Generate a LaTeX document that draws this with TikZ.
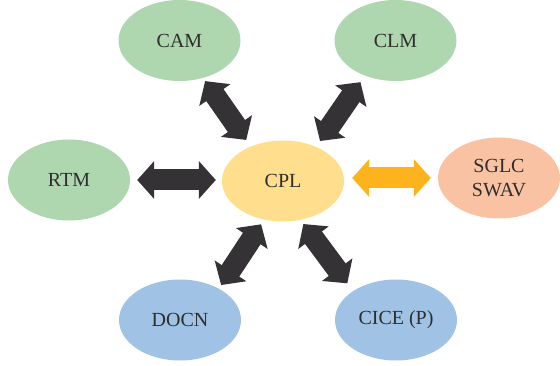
\documentclass[tikz,border=0pt]{standalone}
\usepackage{fontspec}
\setmainfont{Liberation Serif}
\usetikzlibrary{arrows.meta,shapes.geometric}
\definecolor{gfill}{HTML}{AED7B0}
\definecolor{yfill}{HTML}{FFDF8E}
\definecolor{sfill}{HTML}{F9C3A3}
\definecolor{bfill}{HTML}{A0C2E5}
\definecolor{darr}{HTML}{343234}
\definecolor{oarr}{HTML}{FDB31E}
\definecolor{txt}{HTML}{2E2E2E}
\tikzset{
  blob/.style={ellipse, draw=none, inner sep=0pt, minimum width=122pt, minimum height=81pt,
    text=txt, font=\fontsize{20}{24.5}\selectfont, align=center},
  dbl/.style={line width=21pt, darr, {Triangle[width=37pt,length=17pt]}-{Triangle[width=37pt,length=17pt]}},
  obl/.style={dbl, oarr}
}
\begin{document}
\begin{tikzpicture}[x=1pt,y=-1pt]
\useasboundingbox (0,0) rectangle (560,366);
\node[blob, fill=gfill] (cam) at (179.5,40.5) {CAM};
\node[blob, fill=gfill] (clm) at (395.5,40.5) {CLM};
\node[blob, fill=gfill] (rtm) at (69,180) {RTM};
\node[blob, fill=yfill] (cpl) at (283,181) {CPL};
\node[blob, fill=sfill] (sgl) at (499,178) {SGLC\\SWAV};
\node[blob, fill=bfill] (docn) at (180,320) {DOCN};
\node[blob, fill=bfill] (cice) at (396,320) {CICE (P)};
\draw[dbl, shorten <=3.7pt, shorten >=7.9pt] (cam.-58) -- (cpl.133);
\draw[dbl, shorten <=7.8pt, shorten >=7pt] (clm.-131) -- (cpl.46.5);
\draw[dbl, shorten <=7pt, shorten >=6pt] (rtm.east) -- (rtm.east -| cpl.west);
\draw[obl, shorten <=8pt, shorten >=7pt] (cpl.east |- sgl.west) -- (sgl.west);
\draw[dbl, shorten <=4.2pt, shorten >=5.5pt] (docn.39) -- (cpl.-116);
\draw[dbl, shorten <=9.6pt, shorten >=5pt] (cice.146.3) -- (cpl.-66.2);
\end{tikzpicture}
\end{document}
